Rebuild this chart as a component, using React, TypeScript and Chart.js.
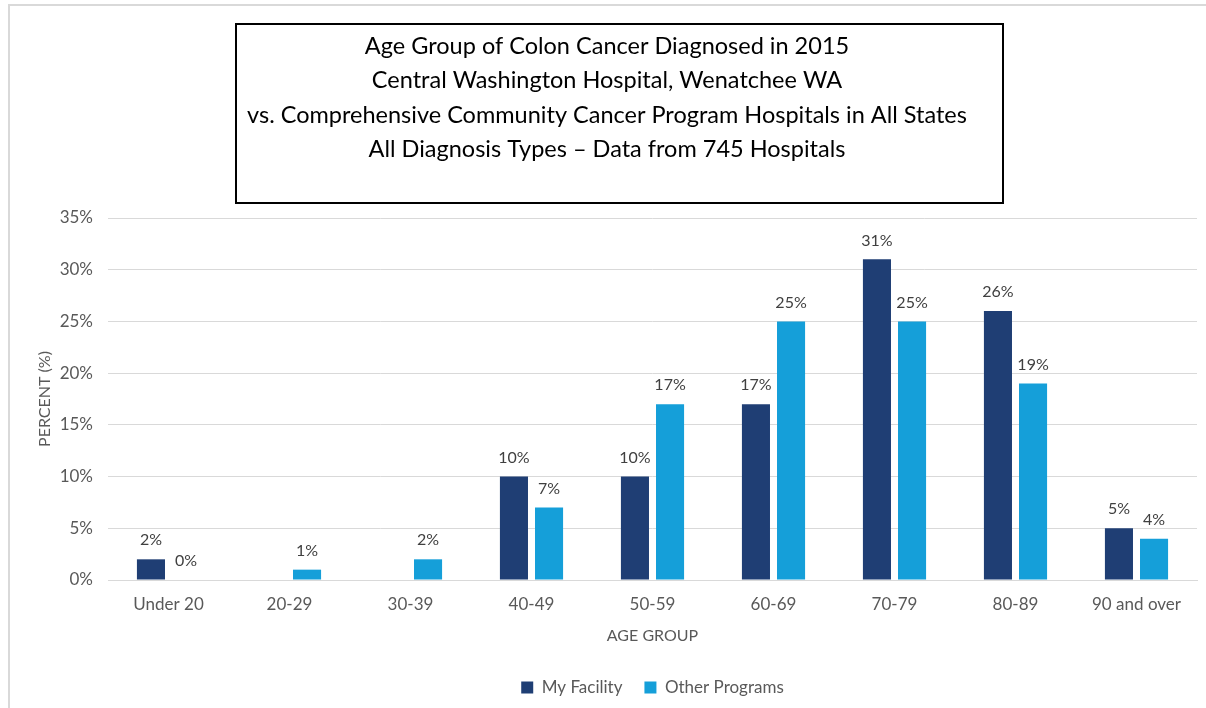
import React, { useEffect, useRef } from "react";
import { Chart, registerables } from "chart.js";

Chart.register(...registerables);

const categories = ["Under 20", "20-29", "30-39", "40-49", "50-59", "60-69", "70-79", "80-89", "90 and over"];
const myFacility: (number | null)[] = [2, null, null, 10, 10, 17, 31, 26, 5];
const otherPrograms: (number | null)[] = [0, 1, 2, 7, 17, 25, 25, 19, 4];
const titleLines = [
  "Age Group of Colon Cancer Diagnosed in 2015",
  "Central Washington Hospital, Wenatchee WA",
  "vs. Comprehensive Community Cancer Program Hospitals in All States",
  "All Diagnosis Types \u2013 Data from 745 Hospitals",
];
const seriesNames = ["My Facility", "Other Programs"];
const seriesColors = ["#1f3e74", "#159fd9"];
const yTicks = [0, 5, 10, 15, 20, 25, 30, 35];

const FONT = "Lato, 'Open Sans', sans-serif";
const GRAY = "#595959";

const framePlugin = {
  id: "frame",
  beforeDraw(chart: any) {
    const ctx = chart.ctx;
    ctx.save();
    ctx.fillStyle = "#ffffff";
    ctx.fillRect(0, 0, chart.width, chart.height);
    ctx.strokeStyle = "#d9d9d9";
    ctx.lineWidth = 2;
    ctx.beginPath();
    ctx.moveTo(9, chart.height);
    ctx.lineTo(9, 5);
    ctx.lineTo(chart.width, 5);
    ctx.stroke();
    ctx.restore();
  },
  afterDraw(chart: any) {
    const ctx = chart.ctx;
    ctx.save();
    ctx.strokeStyle = "#000000";
    ctx.lineWidth = 2;
    ctx.strokeRect(236, 24, 767, 179);
    ctx.fillStyle = "#000000";
    ctx.font = `23.5px ${FONT}`;
    ctx.textAlign = "center";
    ctx.textBaseline = "middle";
    const ys = [46, 80.5, 115, 149];
    titleLines.forEach((t, i) => ctx.fillText(t, 607, ys[i]));
    ctx.restore();
  },
};

const valueLabelPlugin = {
  id: "valueLabels",
  afterDatasetsDraw(chart: any) {
    const ctx = chart.ctx;
    ctx.save();
    ctx.fillStyle = "#404040";
    ctx.font = `16px ${FONT}`;
    ctx.textAlign = "center";
    ctx.textBaseline = "middle";
    chart.data.datasets.forEach((ds: any, di: number) => {
      const meta = chart.getDatasetMeta(di);
      meta.data.forEach((bar: any, i: number) => {
        const v = ds.data[i];
        if (v === null || v === undefined) return;
        ctx.fillText(`${v}%`, bar.x, bar.y - 19);
      });
    });
    ctx.restore();
  },
};

export default function App() {
  const ref = useRef<HTMLCanvasElement | null>(null);
  useEffect(() => {
    if (!ref.current) return;
    const chart = new Chart(ref.current, {
      type: "bar",
      data: {
        labels: categories,
        datasets: [
          { label: seriesNames[0], data: myFacility, backgroundColor: seriesColors[0] },
          { label: seriesNames[1], data: otherPrograms, backgroundColor: seriesColors[1] },
        ],
      },
      plugins: [framePlugin, valueLabelPlugin],
      options: {
        animation: false,
        responsive: true,
        maintainAspectRatio: false,
        devicePixelRatio: 1,
        layout: { padding: { top: 218, left: 35, right: 9, bottom: 2 } },
        datasets: { bar: { categoryPercentage: 0.58, barPercentage: 0.8 } },
        scales: {
          x: {
            afterFit: (s: any) => {
              s.height = 77;
            },
            grid: { display: false, drawTicks: false },
            border: { display: true, color: "#d9d9d9", width: 1 },
            ticks: { color: GRAY, font: { family: FONT, size: 17 }, padding: 14 },
            title: { display: true, text: "AGE GROUP", color: GRAY, font: { family: FONT, size: 16 }, padding: { top: 0, bottom: 12 } },
          },
          y: {
            min: 0,
            max: 35,
            afterBuildTicks: (s: any) => {
              s.ticks = yTicks.map((v) => ({ value: v }));
            },
            afterFit: (s: any) => {
              s.width = 73;
            },
            grid: { color: "#d9d9d9", drawTicks: false },
            border: { display: false },
            ticks: { color: GRAY, font: { family: FONT, size: 17 }, padding: 15, callback: (v: any) => `${v}%` },
            title: { display: true, text: "PERCENT (%)", color: GRAY, font: { family: FONT, size: 16 }, padding: { top: 0, bottom: 0 } },
          },
        },
        plugins: {
          title: { display: false },
          tooltip: { enabled: false },
          legend: {
            position: "bottom",
            fullSize: false,
            labels: {
              color: GRAY,
              font: { family: FONT, size: 17 },
              boxWidth: 12,
              boxHeight: 12,
              padding: 22,
            },
          },
        },
      },
    });
    return () => chart.destroy();
  }, []);
  return (
    <div style={{ position: "fixed", left: 0, top: 0, width: 1206, height: 708, background: "#fff" }}>
      <canvas ref={ref} />
    </div>
  );
}
